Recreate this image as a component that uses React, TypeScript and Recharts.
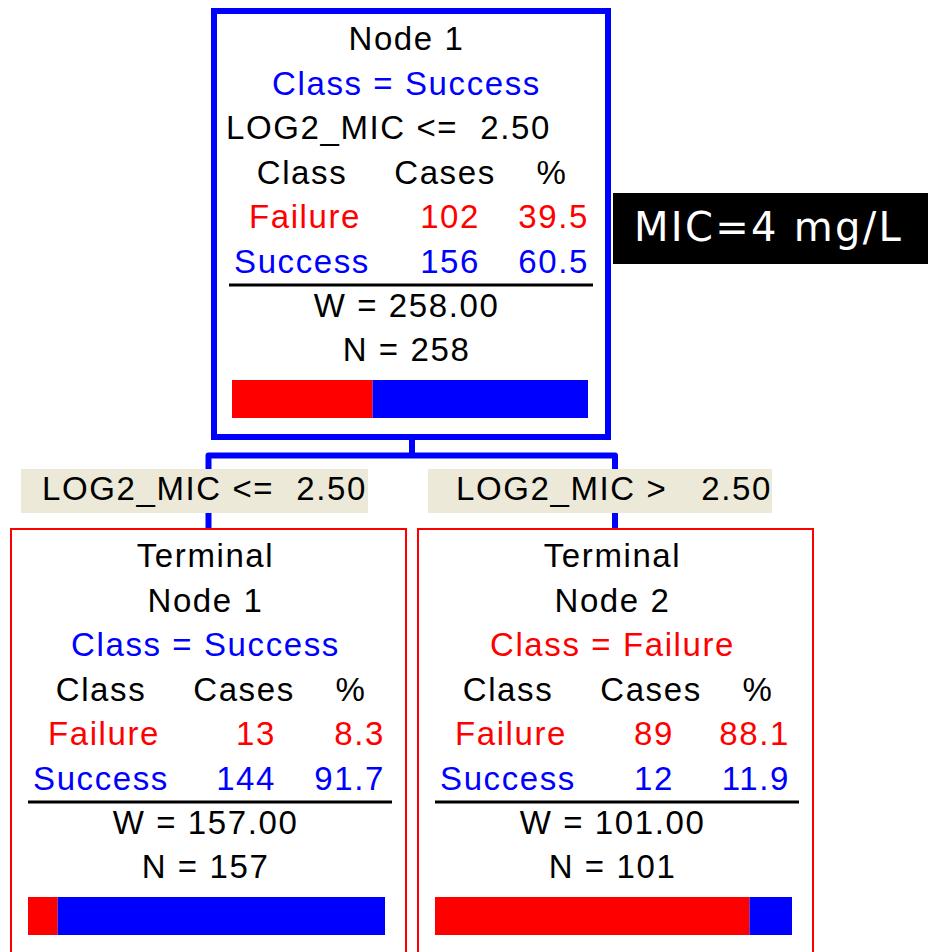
import React from 'react';
import { BarChart, Bar, XAxis, YAxis } from 'recharts';

// ---- data ----
const nodeTitles: string[][] = [['Node 1'], ['Terminal', 'Node 1'], ['Terminal', 'Node 2']];
const predictedClass = ['Success', 'Success', 'Failure'];
const classNames = ['Failure', 'Success'];
const failureCases = [102, 13, 89];
const successCases = [156, 144, 12];
const failurePct = [39.5, 8.3, 88.1];
const successPct = [60.5, 91.7, 11.9];
const weights = ['258.00', '157.00', '101.00'];
const nCounts = [258, 157, 101];
const splitVariable = 'LOG2_MIC';
const splitOps = ['<=', '>'];
const splitValue = '2.50';
const annotation = 'MIC=4 mg/L';

// ---- style / layout ----
const FONT = '"Liberation Sans", Arial, Helvetica, sans-serif';
const FS = 33;
const LS = 1.6;
const BLUE = '#0000FF';
const RED = '#FF0000';
const LH = 44.5;

const layouts = [
  { left: 211, top: 8, w: 400, h: 432, border: 6, color: BLUE, first: 50, casesEnd: 480, pctEnd: 589 },
  { left: 10, top: 528, w: 397, h: 440, border: 2, color: RED, first: 567, casesEnd: 276, pctEnd: 385 },
  { left: 417, top: 528, w: 397, h: 440, border: 2, color: RED, first: 567, casesEnd: 674, pctEnd: 790 },
];

const colorOf = (c: string) => (c === 'Failure' ? RED : BLUE);

const txt = (x: number, y: number, s: string, fill = '#000', anchor: 'start' | 'middle' | 'end' = 'middle', key?: string) => (
  <text key={key} x={x} y={y} fill={fill} textAnchor={anchor} fontFamily={FONT} fontSize={FS} letterSpacing={LS} style={{ whiteSpace: 'pre' }}>
    {s}
  </text>
);

function NodeSvg({ i }: { i: number }) {
  const L = layouts[i];
  const b = (k: number) => L.first + k * LH;
  const cx = L.left + 195.5;
  const lines: React.ReactNode[] = [];
  const titles = nodeTitles[i];
  const classLine = `Class = ${predictedClass[i]}`;
  if (titles.length === 1) {
    lines.push(txt(cx, b(0), titles[0], '#000', 'middle', 't0'));
    lines.push(txt(cx, b(1), classLine, colorOf(predictedClass[i]), 'middle', 'c'));
    lines.push(txt(L.left + 15, b(2), `${splitVariable} ${splitOps[0]}`, '#000', 'start', 's1'));
    lines.push(txt(L.left + 340, b(2), splitValue, '#000', 'end', 's2'));
  } else {
    lines.push(txt(cx, b(0), titles[0], '#000', 'middle', 't0'));
    lines.push(txt(cx, b(1), titles[1], '#000', 'middle', 't1'));
    lines.push(txt(cx, b(2), classLine, colorOf(predictedClass[i]), 'middle', 'c'));
  }
  lines.push(txt(L.left + 91, b(3), 'Class', '#000', 'middle', 'h1'));
  lines.push(txt(L.left + 234, b(3), 'Cases', '#000', 'middle', 'h2'));
  lines.push(txt(L.left + 341, b(3), '%', '#000', 'middle', 'h3'));
  lines.push(txt(L.left + 94, b(4), classNames[0], RED, 'middle', 'f1'));
  lines.push(txt(L.casesEnd, b(4), String(failureCases[i]), RED, 'end', 'f2'));
  lines.push(txt(L.pctEnd, b(4), failurePct[i].toFixed(1), RED, 'end', 'f3'));
  lines.push(txt(L.left + 91, b(5), classNames[1], BLUE, 'middle', 'u1'));
  lines.push(txt(L.casesEnd, b(5), String(successCases[i]), BLUE, 'end', 'u2'));
  lines.push(txt(L.pctEnd, b(5), successPct[i].toFixed(1), BLUE, 'end', 'u3'));
  const ruleY = b(5) + 12.5;
  return (
    <g>
      <rect x={L.left + L.border / 2} y={L.top + L.border / 2} width={L.w - L.border} height={L.h - L.border} fill="#fff" stroke={L.color} strokeWidth={L.border} />
      {lines}
      <line x1={L.left + 18} x2={L.left + 382} y1={ruleY} y2={ruleY} stroke="#000" strokeWidth={3} />
      {txt(cx, ruleY + 32, `W = ${weights[i]}`)}
      {txt(cx, ruleY + 76, `N = ${nCounts[i]}`)}
    </g>
  );
}

function PropBar({ i }: { i: number }) {
  const L = layouts[i];
  const top = L.first + 5 * LH + 12.5 + 76 + 19;
  const data = [{ name: nodeTitles[i].join(' '), failure: failurePct[i], success: successPct[i] }];
  return (
    <div style={{ position: 'absolute', left: L.left + (i === 0 ? 21 : 18), top }}>
      <BarChart width={i === 0 ? 356 : 357} height={38} data={data} layout="vertical" margin={{ top: 0, right: 0, bottom: 0, left: 0 }} barCategoryGap={0}>
        <XAxis type="number" domain={[0, 100]} hide />
        <YAxis type="category" dataKey="name" hide />
        <Bar dataKey="failure" stackId="a" fill={RED} isAnimationActive={false} />
        <Bar dataKey="success" stackId="a" fill={BLUE} isAnimationActive={false} />
      </BarChart>
    </div>
  );
}

export default function App() {
  return (
    <div style={{ position: 'absolute', left: 0, top: 0, width: 928, height: 952, overflow: 'hidden', background: '#fff' }}>
      <svg width={928} height={952} style={{ position: 'absolute', left: 0, top: 0 }}>
        {/* connectors */}
        <path d="M412 438 V455.5 M208.5 528 V455.5 H615 V528" fill="none" stroke={BLUE} strokeWidth={6} strokeLinejoin="round" />
        <NodeSvg i={0} />
        <NodeSvg i={1} />
        <NodeSvg i={2} />
        {/* split labels */}
        <rect x={21} y={469} width={347} height={44} fill="#ECE9D8" />
        {txt(42, 500, `${splitVariable} ${splitOps[0]}`, '#000', 'start')}
        {txt(367, 500, splitValue, '#000', 'end')}
        <rect x={428} y={469} width={344} height={44} fill="#ECE9D8" />
        {txt(456, 500, `${splitVariable} ${splitOps[1]}`, '#000', 'start')}
        {txt(772, 500, splitValue, '#000', 'end')}
        {/* annotation */}
        <rect x={613} y={193} width={315} height={71} fill="#000" />
        <text x={634} y={241} fill="#fff" fontFamily='"DejaVu Sans", sans-serif' fontSize={40} letterSpacing={2.3}>
          {annotation}
        </text>
      </svg>
      <PropBar i={0} />
      <PropBar i={1} />
      <PropBar i={2} />
    </div>
  );
}
